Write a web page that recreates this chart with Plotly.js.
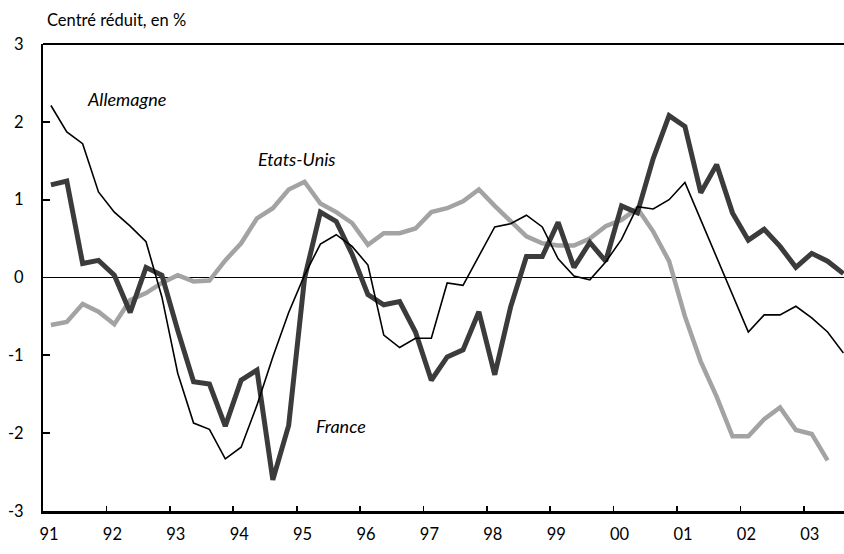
<!DOCTYPE html>
<html>
<head>
<meta charset="utf-8">
<script src="https://cdn.plot.ly/plotly-3.0.1.min.js"></script>
<style>html,body{margin:0;padding:0;background:#fff;}#chart{width:844px;height:554px;}</style>
</head>
<body>
<div id="chart"></div>
<script>
// Quarterly periods (91T1 ... 03T3)
const quarters = [
  "1991T1","1991T2","1991T3","1991T4","1992T1","1992T2","1992T3","1992T4",
  "1993T1","1993T2","1993T3","1993T4","1994T1","1994T2","1994T3","1994T4",
  "1995T1","1995T2","1995T3","1995T4","1996T1","1996T2","1996T3","1996T4",
  "1997T1","1997T2","1997T3","1997T4","1998T1","1998T2","1998T3","1998T4",
  "1999T1","1999T2","1999T3","1999T4","2000T1","2000T2","2000T3","2000T4",
  "2001T1","2001T2","2001T3","2001T4","2002T1","2002T2","2002T3","2002T4",
  "2003T1","2003T2","2003T3"
];
const allemagne = [
  2.21, 1.87, 1.72, 1.10, 0.84, 0.66, 0.46, -0.25,
  -1.23, -1.87, -1.95, -2.33, -2.18, -1.64, -1.02, -0.45,
  0.03, 0.43, 0.55, 0.40, 0.16, -0.74, -0.90, -0.78,
  -0.78, -0.07, -0.10, 0.28, 0.65, 0.69, 0.80, 0.65,
  0.24, 0.02, -0.03, 0.20, 0.49, 0.91, 0.88, 1.00,
  1.22, 0.74, 0.26, -0.22, -0.70, -0.48, -0.48, -0.37,
  -0.52, -0.70, -0.97
];
const france = [
  1.19, 1.24, 0.18, 0.22, 0.03, -0.45, 0.13, 0.03,
  -0.68, -1.34, -1.37, -1.91, -1.32, -1.19, -2.60, -1.90,
  -0.01, 0.84, 0.72, 0.30, -0.22, -0.35, -0.31, -0.70,
  -1.32, -1.02, -0.93, -0.44, -1.25, -0.38, 0.27, 0.27,
  0.71, 0.13, 0.45, 0.21, 0.92, 0.83, 1.53, 2.08,
  1.94, 1.09, 1.45, 0.83, 0.48, 0.62, 0.40, 0.13,
  0.31, 0.21, 0.05
];
const etatsUnis = [
  -0.61, -0.57, -0.34, -0.44, -0.60, -0.29, -0.20, -0.07,
  0.03, -0.05, -0.04, 0.22, 0.44, 0.76, 0.89, 1.13,
  1.23, 0.95, 0.84, 0.70, 0.42, 0.57, 0.57, 0.63,
  0.84, 0.89, 0.98, 1.13, 0.92, 0.73, 0.53, 0.44,
  0.41, 0.41, 0.50, 0.66, 0.74, 0.89, 0.59, 0.21,
  -0.50, -1.08, -1.53, -2.04, -2.04, -1.82, -1.67, -1.96,
  -2.01, -2.35
];
const yearTicks = [1991,1992,1993,1994,1995,1996,1997,1998,1999,2000,2001,2002,2003];
const yearLabels = ["91","92","93","94","95","96","97","98","99","00","01","02","03"];
const yTicks = [-3,-2,-1,0,1,2,3];
const yLabels = ["-3","-2","-1","0","1","2","3"];

// position of each quarter at its middle on a continuous year axis
const xq = quarters.map(q => {
  const yr = parseInt(q.slice(0,4), 10);
  const t = parseInt(q.slice(5), 10);
  return yr + (t - 0.5) / 4;
});

const FONT = "Lato, 'Open Sans', 'DejaVu Sans', sans-serif";

const traces = [
  {x: xq.slice(0, etatsUnis.length), y: etatsUnis, mode: "lines", name: "Etats-Unis",
   line: {color: "#a3a3a3", width: 4.5}, hoverinfo: "skip"},
  {x: xq.slice(0, france.length), y: france, mode: "lines", name: "France",
   line: {color: "#3b3b3b", width: 5}, hoverinfo: "skip"},
  {x: xq.slice(0, allemagne.length), y: allemagne, mode: "lines", name: "Allemagne",
   line: {color: "#000000", width: 1.6}, hoverinfo: "skip"}
];

const layout = {
  width: 844, height: 554,
  margin: {l: 43, r: 0, t: 44, b: 43, pad: 0},
  paper_bgcolor: "#ffffff", plot_bgcolor: "#ffffff",
  showlegend: false,
  font: {family: FONT, color: "#000", size: 16},
  xaxis: {
    range: [1991, 2003.634], tickmode: "array", tickvals: yearTicks, ticktext: yearLabels,
    ticks: "inside", ticklen: 5, tickwidth: 1.8, tickcolor: "#000",
    showline: true, linecolor: "#000", linewidth: 2.5,
    showgrid: false, zeroline: false, ticklabelshift: 6, ticklabelstandoff: 7,
    tickfont: {family: FONT, size: 16.5, color: "#000"}, fixedrange: true
  },
  yaxis: {
    range: [-3, 3], tickmode: "array", tickvals: yTicks, ticktext: yLabels,
    ticks: "inside", ticklen: 7, tickwidth: 1.8, tickcolor: "#000",
    showline: true, linecolor: "#000", linewidth: 2,
    showgrid: false, zeroline: true, zerolinecolor: "#000", zerolinewidth: 1.6,
    ticklabelstandoff: 14,
    tickfont: {family: FONT, size: 16.5, color: "#000"}, fixedrange: true
  },
  shapes: [
    {type: "line", xref: "paper", yref: "paper", x0: 0, x1: 1, y0: 1, y1: 1,
     line: {color: "#000", width: 2}}
  ],
  annotations: [
    {text: "Centré réduit, en %", xref: "paper", yref: "paper", x: 0.003, y: 1.0514,
     xanchor: "left", yanchor: "middle", showarrow: false,
     font: {family: FONT, size: 16.5, color: "#000"}},
    {text: "<i>Allemagne</i>", xref: "x", yref: "y", x: 1992.31, y: 2.29,
     xanchor: "center", yanchor: "middle", showarrow: false,
     font: {family: FONT, size: 18, color: "#000"}},
    {text: "<i>Etats-Unis</i>", xref: "x", yref: "y", x: 1995.0, y: 1.52,
     xanchor: "center", yanchor: "middle", showarrow: false,
     font: {family: FONT, size: 18, color: "#000"}},
    {text: "<i>France</i>", xref: "x", yref: "y", x: 1995.70, y: -1.91,
     xanchor: "center", yanchor: "middle", showarrow: false,
     font: {family: FONT, size: 18, color: "#000"}}
  ]
};

Plotly.newPlot("chart", traces, layout, {displayModeBar: false, staticPlot: true});
</script>
</body>
</html>
